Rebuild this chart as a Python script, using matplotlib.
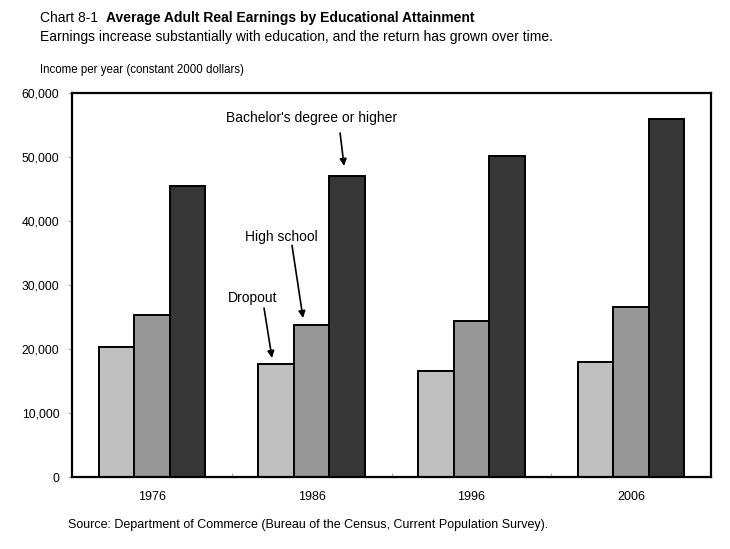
import matplotlib
matplotlib.use('Agg')
import matplotlib.pyplot as plt
import numpy as np

plt.rcParams['font.family'] = ['Liberation Sans', 'DejaVu Sans']

years = ['1976', '1986', '1996', '2006']
dropout = [20300, 17700, 16500, 17900]
high_school = [25300, 23800, 24400, 26600]
bachelor = [45500, 47000, 50100, 55900]

fig = plt.figure(figsize=(7.3, 5.49), dpi=100)
ax = fig.add_axes([0.0986, 0.1311, 0.8755, 0.6995])

x = np.arange(len(years))
w = 0.222
ax.bar(x - w, dropout, w, color='#c0c0c0', edgecolor='black', linewidth=1.4)
ax.bar(x, high_school, w, color='#979797', edgecolor='black', linewidth=1.4)
ax.bar(x + w, bachelor, w, color='#363636', edgecolor='black', linewidth=1.4)

ax.set_xlim(-0.5, 3.5)
ax.set_ylim(0, 60000)
ax.set_yticks(range(0, 60001, 10000))
ax.set_yticklabels(['{:,}'.format(v) for v in range(0, 60001, 10000)], fontsize=8.7)
ax.set_xticks(x)
ax.set_xticklabels(years, fontsize=9)
ax.tick_params(axis='x', length=0, pad=10)
ax.tick_params(axis='y', length=3, width=0.6, color='#999999', pad=6)
ax.set_xticks([0.5, 1.5, 2.5], minor=True)
ax.tick_params(axis='x', which='minor', direction='in', length=3, width=0.6, color='#999999')
for s in ax.spines.values():
    s.set_linewidth(1.6)

# annotations
arrow = dict(arrowstyle='-|>', color='black', lw=1.2, mutation_scale=10, shrinkA=0, shrinkB=0)
ax.text(1.0, 56100, "Bachelor's degree or higher", ha='center', va='center', fontsize=10)
ax.annotate('', xy=(1.203, 48600), xytext=(1.178, 53750), arrowprops=arrow)
ax.text(0.811, 37500, "High school", ha='center', va='center', fontsize=10)
ax.annotate('', xy=(0.946, 24840), xytext=(0.877, 36200), arrowprops=arrow)
ax.text(0.633, 27970, "Dropout", ha='center', va='center', fontsize=10)
ax.annotate('', xy=(0.752, 18600), xytext=(0.702, 26400), arrowprops=arrow)

# titles
t1 = fig.text(40 / 730, 1 - 18 / 549, 'Chart 8-1  ', fontsize=10, va='center', ha='left')
fig.canvas.draw()
bb = t1.get_window_extent()
fig.text(bb.x1 / fig.bbox.width, 1 - 18 / 549, 'Average Adult Real Earnings by Educational Attainment',
         fontsize=10, fontweight='bold', va='center', ha='left')
fig.text(40 / 730, 1 - 37 / 549, 'Earnings increase substantially with education, and the return has grown over time.',
         fontsize=10, va='center', ha='left')
fig.text(40 / 730, 1 - 70 / 549, 'Income per year (constant 2000 dollars)', fontsize=8.3, va='center', ha='left')
fig.text(68 / 730, 1 - 525 / 549,
         'Source: Department of Commerce (Bureau of the Census, Current Population Survey).',
         fontsize=9, va='center', ha='left')

fig.savefig('out.png', dpi=100)
